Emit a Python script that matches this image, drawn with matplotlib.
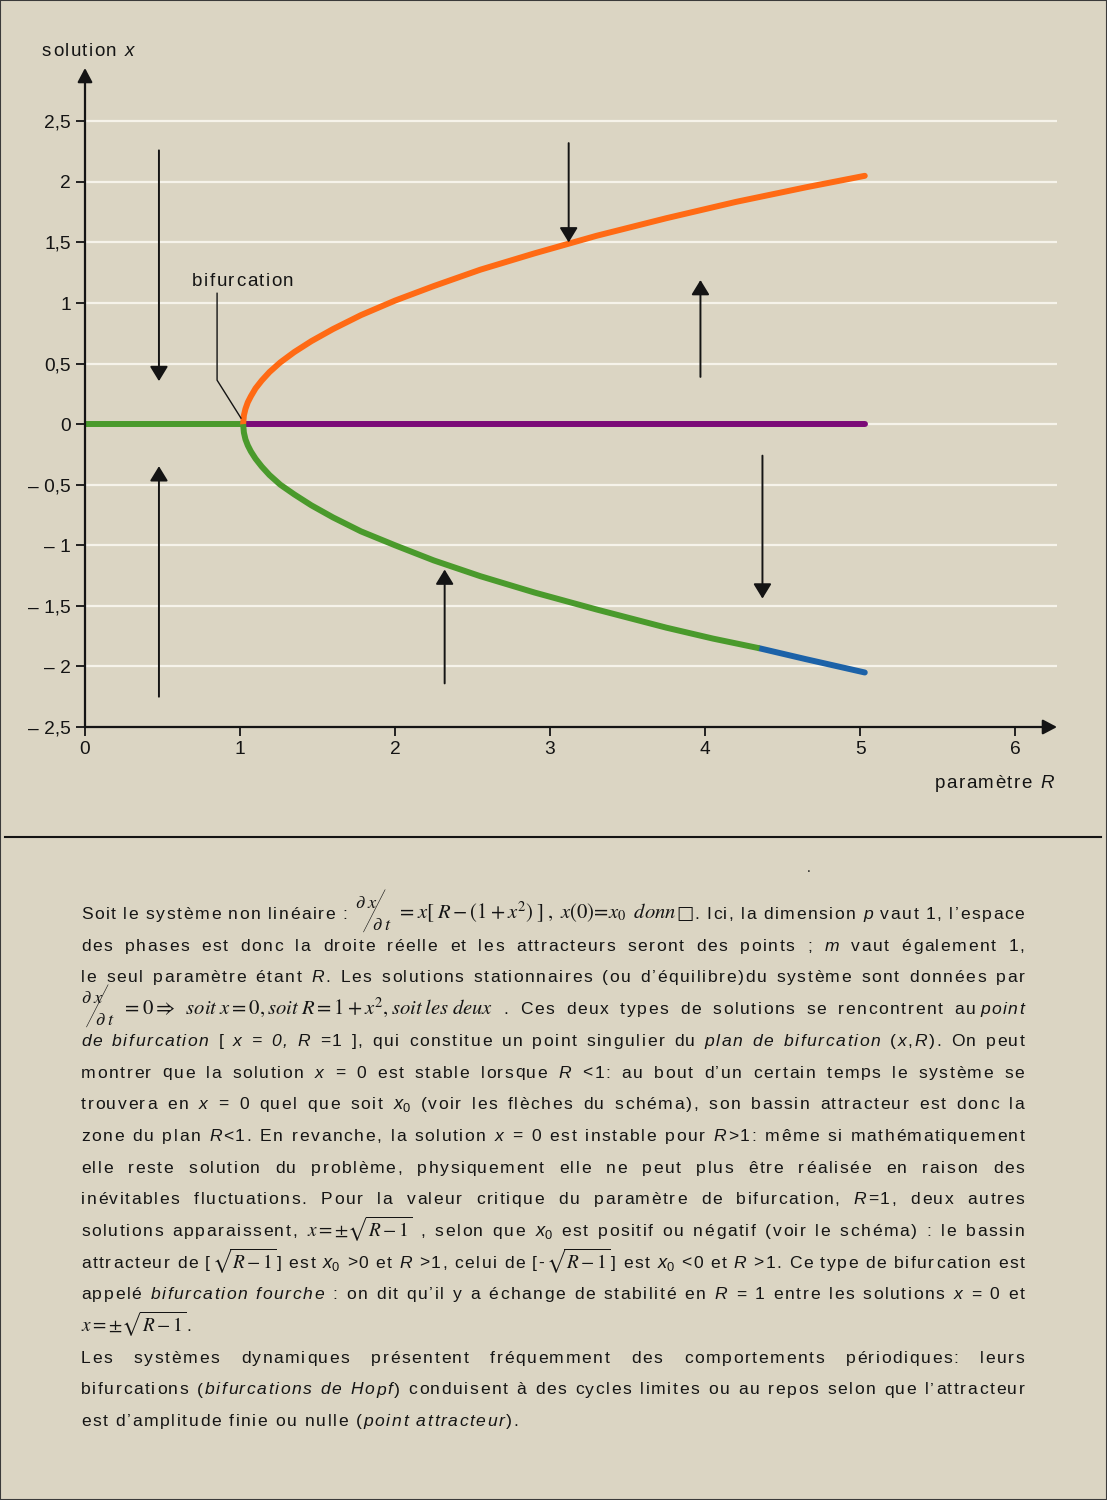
import matplotlib
matplotlib.use('Agg')
import matplotlib.pyplot as plt
from matplotlib.lines import Line2D
from matplotlib.patches import Rectangle, FancyArrowPatch

# ---------------- data ----------------
R_stable0 = [0.0, 1.02]            # x = 0 stable (green)
x_stable0 = [0.0, 0.0]
R_unstable0 = [1.02, 5.03]         # x = 0 unstable (purple)
x_unstable0 = [0.0, 0.0]
R_upper = [1.02, 1.025, 1.035, 1.05, 1.07, 1.10, 1.14, 1.19, 1.26, 1.35, 1.46,
           1.60, 1.78, 2.00, 2.25, 2.55, 2.90, 3.30, 3.75, 4.20, 4.65, 5.03]
x_upper = [0.0, 0.073, 0.126, 0.18, 0.23, 0.295, 0.36, 0.43, 0.51, 0.595, 0.685,
           0.785, 0.90, 1.02, 1.14, 1.275, 1.41, 1.555, 1.70, 1.835, 1.955, 2.05]
R_lower = [1.02, 1.025, 1.035, 1.05, 1.07, 1.10, 1.14, 1.19, 1.26, 1.35, 1.46,
           1.60, 1.78, 2.00, 2.25, 2.55, 2.90, 3.30, 3.75, 4.05, 4.35]
x_lower = [0.0, -0.07, -0.125, -0.175, -0.225, -0.285, -0.35, -0.42, -0.50, -0.58, -0.67,
           -0.77, -0.885, -1.00, -1.125, -1.255, -1.39, -1.53, -1.68, -1.77, -1.85]
R_lower_end = [4.35, 4.65, 5.03]
x_lower_end = [-1.85, -1.94, -2.05]

# flow arrows: (R, x_start, x_end)
arrow_R = [0.477, 0.477, 3.12, 3.97, 4.37, 2.32]
arrow_from = [2.26, -2.25, 2.32, 0.39, -0.26, -2.14]
arrow_to = [0.355, -0.347, 1.50, 1.19, -1.44, -1.20]

y_ticks = [2.5, 2.0, 1.5, 1.0, 0.5, 0.0, -0.5, -1.0, -1.5, -2.0, -2.5]
y_tick_labels = ['2,5', '2', '1,5', '1', '0,5', '0', '– 0,5', '– 1', '– 1,5', '– 2', '– 2,5']
x_ticks = [0, 1, 2, 3, 4, 5, 6]
x_tick_labels = ['0', '1', '2', '3', '4', '5', '6']
grid_levels = [2.5, 2.0, 1.5, 1.0, 0.5, 0.0, -0.5, -1.0, -1.5, -2.0]

# ---------------- style ----------------
W, H = 1107, 1500
BG = '#dbd5c3'
GRID = '#f6f3ea'
ORANGE = '#ff6a14'
GREEN = '#4a9a2c'
PURPLE = '#7b0a78'
BLUE = '#1c62a8'
INK = '#141414'
SANS = ['Liberation Sans', 'DejaVu Sans']

plt.rcParams['font.family'] = SANS
plt.rcParams['mathtext.fontset'] = 'custom'
plt.rcParams['mathtext.it'] = 'Liberation Sans:italic'
plt.rcParams['mathtext.rm'] = 'Liberation Sans'
plt.rcParams['mathtext.bf'] = 'Liberation Sans:bold'

fig = plt.figure(figsize=(W / 100, H / 100), dpi=100, facecolor=BG)
renderer = fig.canvas.get_renderer()

ax = fig.add_axes([85 / W, 1 - 727 / H, (1057 - 85) / W, (727 - 68) / H])
ax.set_xlim(0, 6.27)
ax.set_ylim(-2.5, 2.94)
ax.patch.set_alpha(0)
for s in ax.spines.values():
    s.set_visible(False)

# grid
ax.hlines(grid_levels, 0, 6.27, color=GRID, lw=1.6, zorder=1, clip_on=False)

# axes with arrows
for xy, xyt in [((0, 2.94), (0, -2.5)), ((6.27, -2.5), (0, -2.5))]:
    ax.annotate('', xy=xy, xytext=xyt, annotation_clip=False,
                arrowprops=dict(arrowstyle='-|>,head_length=0.85,head_width=0.45',
                                mutation_scale=10, lw=1.6, color=INK,
                                shrinkA=0, shrinkB=0),
                zorder=5)

ax.set_yticks(y_ticks)
ax.set_yticklabels(y_tick_labels)
ax.set_xticks(x_ticks)
ax.set_xticklabels(x_tick_labels)
ax.tick_params(axis='both', direction='out', length=6.5, width=1.3, color=INK,
               labelsize=13.8, labelcolor=INK)
ax.tick_params(axis='y', pad=3.5)
ax.tick_params(axis='x', pad=3.5)

# curves
lw = 4.3
ax.plot(R_unstable0, x_unstable0, color=PURPLE, lw=lw, solid_capstyle='round', zorder=3)
ax.plot(R_stable0, x_stable0, color=GREEN, lw=lw, solid_capstyle='butt', zorder=3)
ax.plot(R_upper, x_upper, color=ORANGE, lw=lw, solid_capstyle='round',
        solid_joinstyle='round', zorder=4)
ax.plot(R_lower_end, x_lower_end, color=BLUE, lw=lw, solid_capstyle='round', zorder=3)
ax.plot(R_lower, x_lower, color=GREEN, lw=lw, solid_capstyle='butt',
        solid_joinstyle='round', zorder=4)

# flow arrows
for r, a, b in zip(arrow_R, arrow_from, arrow_to):
    ax.add_patch(FancyArrowPatch((r, a), (r, b),
                                 arrowstyle='-|>,head_length=0.9,head_width=0.55',
                                 mutation_scale=10, lw=1.4, color=INK,
                                 shrinkA=0, shrinkB=0, zorder=6, clip_on=False))

# bifurcation leader
ax.plot([0.852, 0.852, 1.006], [1.08, 0.363, 0.05], color=INK, lw=1.0, zorder=6)

# separator and frame
fig.add_artist(Line2D([5 / W, 1101 / W], [1 - 837 / H] * 2, color=INK, lw=1.5))
fig.add_artist(Rectangle((0, 0), 1, 1, transform=fig.transFigure, fill=False,
                         ec='#3a3a3a', lw=1.5))
fig.text(809 / W, 1 - 872 / H, '.', fontsize=10, color=INK, ha='center', va='baseline')


# ---------------- text helpers (letter-spaced text) ----------------
def make_text(text, style, size, x=0.0, y=0.0):
    kw = dict(fontsize=size, va='baseline', ha='left', color=INK)
    if style == 'n':
        kw['family'] = SANS
    elif style == 'i':
        kw.update(family=SANS, style='italic')
    elif style == 'ms':
        kw.update(math_fontfamily='stix')
    elif style == 'mc':
        kw.update(math_fontfamily='custom')
    elif style == 'sl':
        kw.update(family=['Lato', 'Roboto', 'DejaVu Sans'], style='italic', weight=200)
    elif style == 'box':
        kw.update(family=['DejaVu Serif'], style='italic')
    return fig.text(x, y, text, **kw)


_adv = {}


def advance(c, style, size):
    key = (c, style, size)
    if key not in _adv:
        t1 = make_text('H' + c + 'H', style, size)
        t2 = make_text('HH', style, size)
        _adv[key] = (t1.get_window_extent(renderer).width
                     - t2.get_window_extent(renderer).width)
        t1.remove()
        t2.remove()
    return _adv[key]


def expand(item, base_size, track):
    text, style, scale, dy, kern = item
    size = base_size * scale
    if style in ('n', 'i'):
        out = []
        x = kern
        for c in text:
            out.append((c, style, size, x, dy))
            x += advance(c, style, size) + track
        return out, x
    t = make_text(text, style, size)
    w = t.get_window_extent(renderer).width
    t.remove()
    return [(text, style, size, kern, dy)], kern + w


def norm(seg):
    text, style = seg[0], seg[1]
    scale = seg[2] if len(seg) > 2 else 1
    dy = seg[3] if len(seg) > 3 else 0
    kern = seg[4] if len(seg) > 4 else 0
    return text, style, scale, dy, kern


def build_words(segs):
    words = [[]]
    for seg in segs:
        text, style, scale, dy, kern = norm(seg)
        if style in ('n', 'i'):
            parts = text.split(' ')
            for i, p in enumerate(parts):
                if i > 0:
                    words.append([])
                if p:
                    words[-1].append((p, style, scale, dy, kern if i == 0 else 0))
        else:
            words[-1].append((text, style, scale, dy, kern))
    return [w for w in words if w]


def layout_line(segs, base_size, track, left, base, right=None, justify=False, ha='left'):
    words = build_words(segs)
    glyphs, widths = [], []
    for w in words:
        items, total = [], 0.0
        for it in w:
            g, wd = expand(it, base_size, track)
            items.extend([(c, st, sz, total + dx, dy) for (c, st, sz, dx, dy) in g])
            total += wd
        glyphs.append(items)
        widths.append(total)
    sp = advance(' ', 'n', base_size) + track
    if justify and len(words) > 1:
        gap = (right - left - sum(widths)) / (len(words) - 1)
    else:
        gap = sp
    full = sum(widths) + gap * (len(words) - 1)
    x = left - full if ha == 'right' else left
    for items, wd in zip(glyphs, widths):
        for (c, st, sz, dx, dy) in items:
            make_text(c, st, sz, (x + dx) / W, 1 - (base + dy) / H)
        x += wd + gap


# chart labels
LBL = 13.5
LTR = 1.5
layout_line([('solution ', 'n'), ('x', 'i')], LBL, LTR, 42, 56)
layout_line([('paramètre ', 'n'), ('R', 'i')], LBL, LTR, 1055, 788, ha='right')
layout_line([('bifurcation', 'n')], LBL, LTR, 192, 286)

# ---------------- text block ----------------
FS = 12.6
TRACK = 1.6
LEFT, RIGHT = 81, 1026
BASE0, LSTEP = 919, 31.7
MS = 1.18

lines = [
    ([('Soit le système non linéaire : ', 'n'),
      (r'$\partial\;x$', 'ms', 1.05, -11, 0), ('/', 'sl', 3.2, 11, -14),
      (r'$\partial\;t$', 'ms', 1.05, 11, -13),
      (r'$=x[\;R-(1+x^{2})\;]\;,\;x(0)\!=\!x_0\;\;donn$', 'ms', MS, 0, 5),
      ('□', 'box', 1.05), ('. Ici, la dimension ', 'n'), ('p', 'i'),
      (' vaut 1, l’espace', 'n')], True),
    ([('des phases est donc la droite réelle et les attracteurs seront des points ; ', 'n'),
      ('m', 'i'), (' vaut également 1,', 'n')], True),
    ([('le seul paramètre étant ', 'n'), ('R', 'i'),
      ('. Les solutions stationnaires (ou d’équilibre)du système sont données par', 'n')], True),
    ([(r'$\partial\;x$', 'ms', 1.05, -11, 0), ('/', 'sl', 3.2, 11, -18),
      (r'$\partial\;t$', 'ms', 1.05, 11, -13),
      (r'$=0\Rightarrow\;\;soit\;x=0,soit\;R=1+x^{2},soit\;les\;deux$', 'ms', MS, 0, 8),
      (' . Ces deux types de solutions se rencontrent au', 'n'), ('point', 'i', 1, 0, 3)], True),
    ([('de bifurcation', 'i'), (' [ ', 'n'), ('x = 0, R', 'i'),
      (' =1 ], qui constitue un point singulier du ', 'n'), ('plan de bifurcation', 'i'),
      (' (', 'n'), ('x', 'i'), (',', 'n'), ('R', 'i'), ('). On peut', 'n')], True),
    ([('montrer que la solution ', 'n'), ('x', 'i'), (' = 0 est stable lorsque ', 'n'),
      ('R', 'i'), (' <1: au bout d’un certain temps le système se', 'n')], True),
    ([('trouvera en ', 'n'), ('x', 'i'), (' = 0 quel que soit ', 'n'), (r'$x_0$', 'mc', 1.05),
      (' (voir les flèches du schéma), son bassin attracteur est donc la', 'n')], True),
    ([('zone du plan ', 'n'), ('R', 'i'), ('<1. En revanche, la solution ', 'n'), ('x', 'i'),
      (' = 0 est instable pour ', 'n'), ('R', 'i'), ('>1: même si mathématiquement', 'n')], True),
    ([('elle reste solution du problème, physiquement elle ne peut plus être réalisée en raison des', 'n')], True),
    ([('inévitables fluctuations. Pour la valeur critique du paramètre de bifurcation, ', 'n'),
      ('R', 'i'), ('=1, deux autres', 'n')], True),
    ([('solutions apparaissent, ', 'n'), (r'$x=\pm\sqrt{R-1}$', 'ms', 1.1),
      (' , selon que ', 'n'), (r'$x_0$', 'mc', 1.05),
      (' est positif ou négatif (voir le schéma) : le bassin', 'n')], True),
    ([('attracteur de [', 'n'), (r'$\sqrt{R-1}$', 'ms', 1.1), ('] est ', 'n'),
      (r'$x_0$', 'mc', 1.05), (' >0 et ', 'n'), ('R', 'i'), (' >1, celui de [-', 'n'),
      (r'$\sqrt{R-1}$', 'ms', 1.1), ('] est ', 'n'), (r'$x_0$', 'mc', 1.05),
      (' <0 et ', 'n'), ('R', 'i'), (' >1. Ce type de bifurcation est', 'n')], True),
    ([('appelé ', 'n'), ('bifurcation fourche', 'i'),
      (' : on dit qu’il y a échange de stabilité en ', 'n'), ('R', 'i'),
      (' = 1 entre les solutions ', 'n'), ('x', 'i'), (' = 0 et', 'n')], True),
    ([(r'$x=\pm\sqrt{R-1}$', 'ms', 1.1), ('.', 'n')], False),
    ([('Les systèmes dynamiques présentent fréquemment des comportements périodiques: leurs', 'n')], True),
    ([('bifurcations (', 'n'), ('bifurcations de Hopf', 'i'),
      (') conduisent à des cycles limites ou au repos selon que l’attracteur', 'n')], True),
    ([('est d’amplitude finie ou nulle (', 'n'), ('point attracteur', 'i'), (').', 'n')], False),
]

for li, (segs, justify) in enumerate(lines):
    layout_line(segs, FS, TRACK, LEFT, BASE0 + li * LSTEP, right=RIGHT, justify=justify)

fig.savefig('out.png', dpi=100, facecolor=BG)
